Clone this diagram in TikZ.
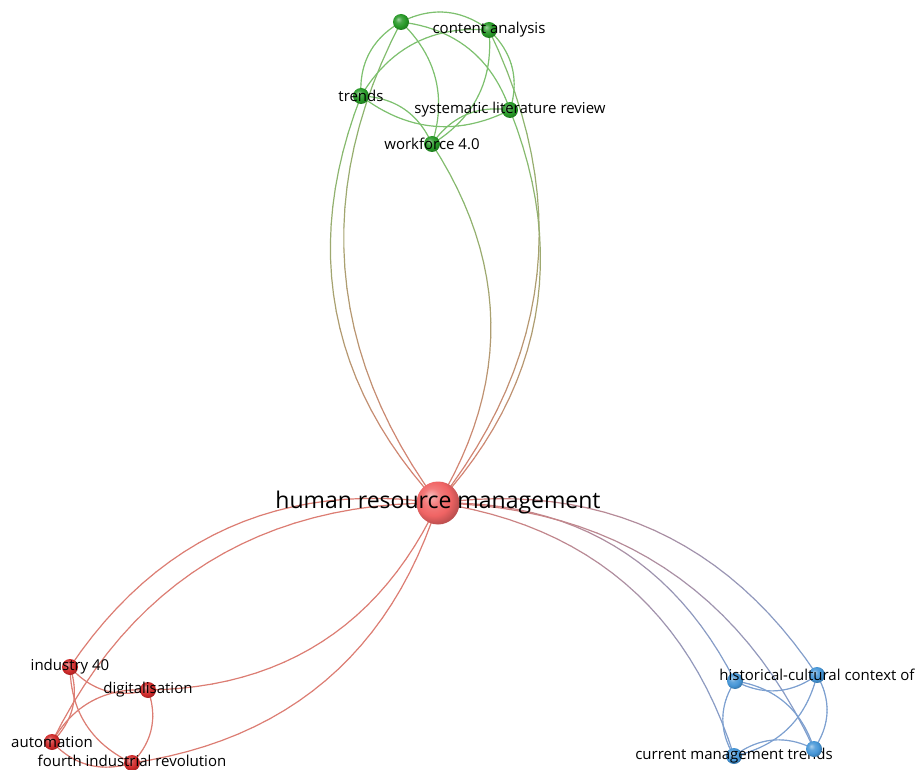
\documentclass[tikz,border=0pt]{standalone}
\usepackage{fontspec}
\setmainfont{Open Sans}
\pgfdeclarelayer{edges}
\pgfsetlayers{edges,main}

% soft ball shading for the keyword circles
\makeatletter
\pgfdeclareradialshading[tikz@ball]{kwball}{\pgfqpoint{-9bp}{9bp}}{%
  color(0bp)=(tikz@ball!45!white);
  color(10bp)=(tikz@ball!85!white);
  color(20bp)=(tikz@ball);
  color(28bp)=(tikz@ball!80!black);
  color(50bp)=(tikz@ball!50!black)}
\makeatother

% cluster colours: links and keyword balls
\definecolor{gE}{RGB}{125,192,110}
\definecolor{rE}{RGB}{220,125,115}
\definecolor{bE}{RGB}{125,160,208}
\definecolor{gN}{RGB}{38,152,38}
\definecolor{rN}{RGB}{208,42,42}
\definecolor{hN}{RGB}{240,100,100}
\definecolor{bN}{RGB}{70,150,215}

\tikzset{
  link/.style={line width=1.2pt, line cap=round},
  bendL/.style={bend left=32},
  bendR/.style={bend right=32},
  kw/.style={circle, inner sep=0pt, minimum size=16pt},
  kwg/.style={kw, ball color=gN, shading=kwball},
  kwr/.style={kw, ball color=rN, shading=kwball},
  kwb/.style={kw, ball color=bN, shading=kwball},
  lbl/.style={font=\fontsize{15}{15}\selectfont, text=black, inner sep=0pt},
  biglbl/.style={font=\fontsize{23}{23}\selectfont, text=black, inner sep=0pt},
}

% curved link whose colour fades from the first to the second keyword
\newcommand\linkedge[5]{%
  \foreach \k in {0,...,23}{%
    \pgfmathsetmacro\ta{\k/24}%
    \pgfmathsetmacro\tb{(\k+1)/24}%
    \pgfmathtruncatemacro\pc{100-100*(\k+0.5)/24}%
    \path (#1.center) to[#3] node[coordinate,pos=\ta] (ea) {} node[coordinate,pos=\tb] (eb) {} (#2.center);
    \draw[link, color=#4!\pc!#5] (ea) -- (eb);
  }%
}

\begin{document}
\begin{tikzpicture}[x=1pt, y=-1pt]
\useasboundingbox (0,0) rectangle (919,770);

% central keyword
\node[kw, minimum size=43pt, ball color=hN, shading=kwball, label={[biglbl]center:human resource management}] (H) at (438,503) {};

% green cluster
\node[kwg] (T) at (401,22) {};
\node[kwg, label={[lbl]center:content analysis}] (CA) at (489,30) {};
\node[kwg, label={[lbl]center:trends}] (TR) at (361,96) {};
\node[kwg, label={[lbl]center:systematic literature review}] (SLR) at (510,110) {};
\node[kwg, label={[lbl]center:workforce 4.0}] (W) at (432,144) {};

% red cluster
\node[kwr, label={[lbl]center:industry 40}] (I40) at (70,667) {};
\node[kwr, label={[lbl]center:digitalisation}] (DIG) at (148,690) {};
\node[kwr, label={[lbl]center:automation}] (AUT) at (52,742) {};
\node[kwr, label={[lbl, yshift=2pt]center:fourth industrial revolution}] (FIR) at (132,763) {};

% blue cluster
\node[kwb] (HL) at (735,681) {};
\node[kwb, label={[lbl]center:historical-cultural context of}] (HR) at (817,675) {};
\node[kwb, label={[lbl]center:current management trends}] (CMT) at (734,756) {};
\node[kwb] (BR) at (814,749) {};

\begin{pgfonlayer}{edges}
% links to the green cluster
\linkedge{H}{TR}{bendL}{rE}{gE}
\linkedge{H}{T}{bendL}{rE}{gE}
\linkedge{H}{W}{bendR}{rE}{gE}
\linkedge{H}{CA}{bendR}{rE}{gE}
\linkedge{H}{SLR}{bendR}{rE}{gE}
\linkedge{T}{CA}{bendL}{gE}{gE}
\linkedge{T}{TR}{bendR}{gE}{gE}
\linkedge{T}{W}{bendL}{gE}{gE}
\linkedge{T}{SLR}{bendL}{gE}{gE}
\linkedge{CA}{TR}{bendR}{gE}{gE}
\linkedge{CA}{W}{bendL}{gE}{gE}
\linkedge{CA}{SLR}{bendL}{gE}{gE}
\linkedge{TR}{SLR}{bendR}{gE}{gE}
\linkedge{TR}{W}{bendL}{gE}{gE}
\linkedge{W}{SLR}{bendL}{gE}{gE}
% links to the red cluster
\linkedge{H}{I40}{bendR}{rE}{rE}
\linkedge{H}{AUT}{bendR}{rE}{rE}
\linkedge{H}{DIG}{bendL}{rE}{rE}
\linkedge{H}{FIR}{bendL}{rE}{rE}
\linkedge{I40}{DIG}{bendR}{rE}{rE}
\linkedge{I40}{AUT}{bendL}{rE}{rE}
\linkedge{I40}{FIR}{bendR}{rE}{rE}
\linkedge{DIG}{AUT}{bendR}{rE}{rE}
\linkedge{DIG}{FIR}{bendL}{rE}{rE}
\linkedge{AUT}{FIR}{bendR}{rE}{rE}
% links to the blue cluster
\linkedge{H}{CMT}{bendL}{rE}{bE}
\linkedge{H}{HL}{bendL}{rE}{bE}
\linkedge{H}{BR}{bendL}{rE}{bE}
\linkedge{H}{HR}{bendL}{rE}{bE}
\linkedge{HL}{HR}{bendR}{bE}{bE}
\linkedge{HL}{CMT}{bendR}{bE}{bE}
\linkedge{HL}{BR}{bendL}{bE}{bE}
\linkedge{HR}{CMT}{bendL}{bE}{bE}
\linkedge{HR}{BR}{bendL}{bE}{bE}
\linkedge{CMT}{BR}{bendL}{bE}{bE}
\end{pgfonlayer}
\end{tikzpicture}
\end{document}
